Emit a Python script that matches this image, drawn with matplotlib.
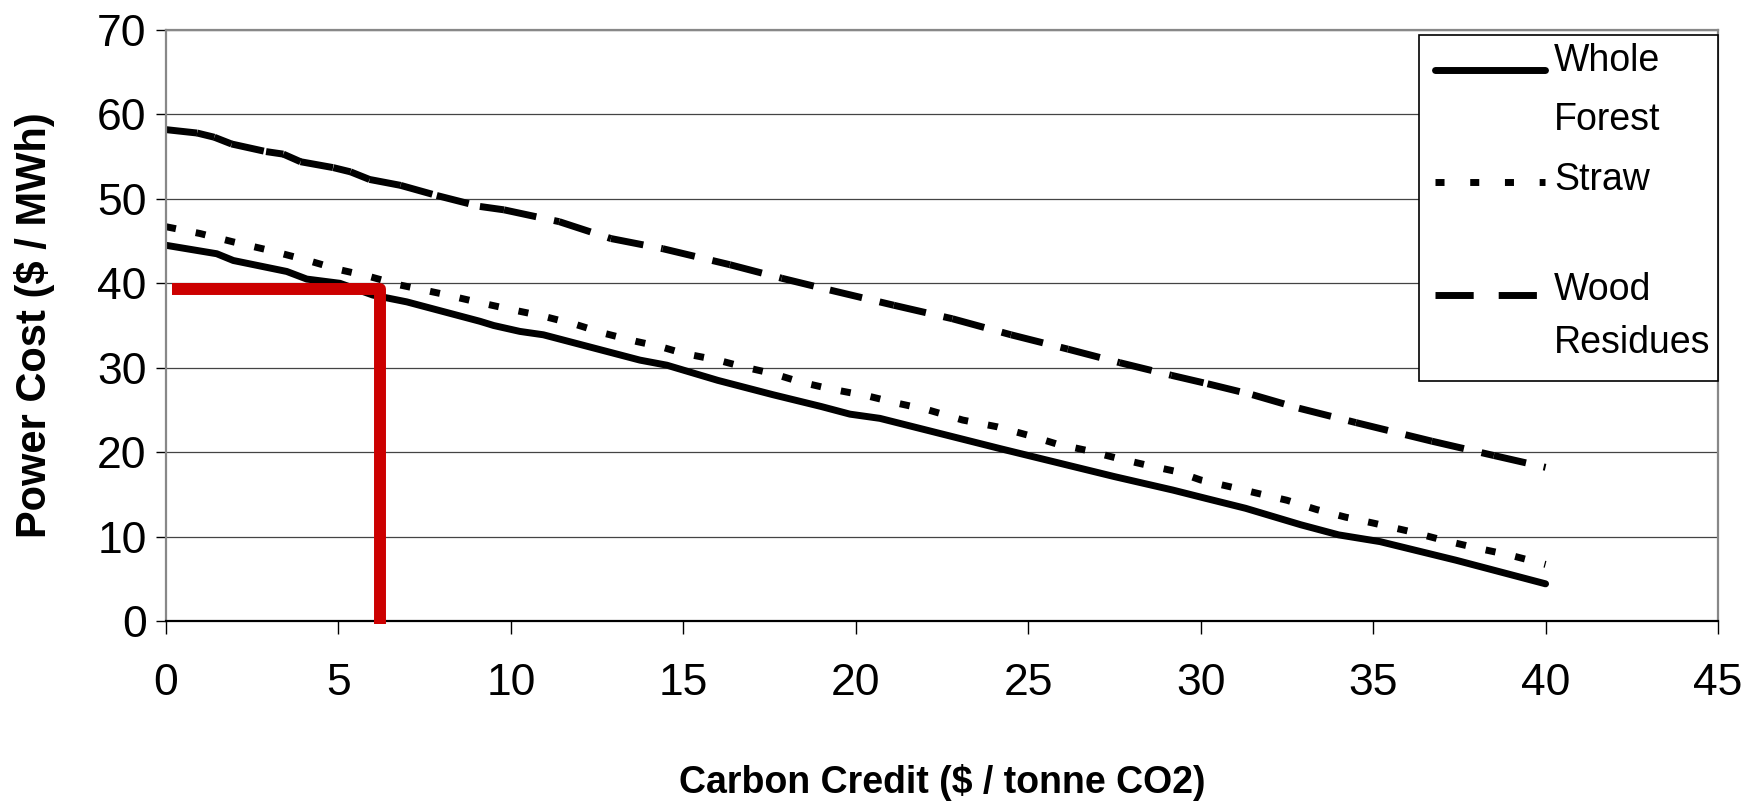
import matplotlib
matplotlib.use("Agg")
import matplotlib.pyplot as plt
from matplotlib.collections import LineCollection
from matplotlib.lines import Line2D
from matplotlib.patches import Rectangle

plt.rcParams["font.family"] = ["Liberation Sans", "DejaVu Sans"]

# Whole Forest (solid)
forest_x = [0, 1.47, 1.95, 3.5, 4.08, 5.04, 6.0, 6.98, 9.1, 9.5, 10.26, 10.94,
            13.74, 14.52, 16.0, 17.6, 19.0, 19.83, 20.7, 24.2, 27.5, 29.2,
            30.17, 31.3, 32.9, 34.0, 35.2, 37.4, 40]
forest_y = [44.5, 43.5, 42.7, 41.4, 40.5, 40.0, 38.6, 37.8, 35.5, 35.0, 34.3, 33.9,
            30.9, 30.3, 28.5, 26.8, 25.4, 24.5, 24.0, 20.4, 17.1, 15.5,
            14.5, 13.35, 11.4, 10.2, 9.4, 7.2, 4.4]

# Straw (dotted)
straw_x = [0, 0.98, 1.95, 3.0, 4.03, 5.04, 5.9, 6.78, 7.94, 9.0, 10.0, 10.94,
           11.9, 12.68, 13.65, 14.33, 15.0, 16.0, 16.74, 17.6, 18.4, 19.25,
           20.4, 21.2, 22.1, 23.1, 24.1, 25.0, 25.8, 26.7, 27.56, 28.4, 29.3,
           30.0, 30.85, 31.67, 32.5, 33.36, 34.2, 35.0, 36.07, 37.0, 38.05,
           38.97, 40]
straw_y = [46.7, 45.9, 44.9, 43.9, 42.8, 41.6, 40.8, 39.8, 38.8, 37.8, 36.9, 36.1,
           35.1, 34.1, 33.1, 32.5, 31.7, 30.9, 30.1, 29.3, 28.3, 27.5,
           26.6, 25.8, 25.0, 23.8, 23.0, 22.0, 21.0, 20.2, 19.3, 18.5, 17.7,
           16.7, 15.9, 15.1, 14.3, 13.2, 12.3, 11.6, 10.6, 9.6, 8.6,
           7.8, 6.7]

# Wood Residues (dashed)
wood_x = [0, 0.9, 1.4, 1.9, 2.9, 3.4, 3.9, 4.85, 5.35, 5.9, 6.8, 7.85, 9.1,
          9.8, 11.4, 12.9, 14.4, 16.35, 17.85, 19.25, 21.1, 22.8, 24.5, 26.15,
          27.65, 29.15, 30.2, 31.5, 32.85, 34.5, 36.7, 38.5, 40]
wood_y = [58.2, 57.8, 57.3, 56.5, 55.6, 55.3, 54.4, 53.7, 53.2, 52.3, 51.6, 50.4, 49.1,
          48.7, 47.3, 45.3, 44.1, 42.2, 40.6, 39.2, 37.4, 35.8, 33.9, 32.2,
          30.6, 29.1, 28.1, 26.8, 25.2, 23.5, 21.3, 19.6, 18.2]

# red marker lines
red_x = [0.17, 6.2, 6.2]
red_y = [39.3, 39.3, -0.4]

legend_labels = [["Whole", "Forest"], ["Straw"], ["Wood", "Residues"]]

fig = plt.figure(figsize=(17.59, 8.07), dpi=100)
ax = fig.add_axes([0.0944, 0.2305, 0.8823, 0.7323])

ax.set_xlim(0, 45)
ax.set_ylim(0, 70)
ax.set_xticks(range(0, 46, 5))
ax.set_yticks(range(0, 71, 10))
ax.yaxis.grid(True, color="#444444", linewidth=0.9)
ax.set_axisbelow(True)

for side in ["left", "top", "right"]:
    ax.spines[side].set_color("#888888")
    ax.spines[side].set_linewidth(1.6)
ax.spines["bottom"].set_color("black")
ax.spines["bottom"].set_linewidth(1.6)

ax.tick_params(axis="y", direction="out", length=7, width=1, pad=7, labelsize=32)
ax.tick_params(axis="x", direction="out", length=9.5, width=1, pad=21, labelsize=32)

lw = 5.0
ax.plot(forest_x, forest_y, color="black", linewidth=lw,
        solid_joinstyle="round", solid_capstyle="round")
ax.plot(straw_x, straw_y, color="black", linewidth=lw,
        linestyle=(0, (1.45, 2.9)), dash_capstyle="butt")

# dashed line: pattern restarts at every data point
wood_segs = [[(wood_x[i], wood_y[i]), (wood_x[i + 1], wood_y[i + 1])]
             for i in range(len(wood_x) - 1)]
ax.add_collection(LineCollection(wood_segs, colors="black", linewidths=lw,
                                 linestyles=[(0, (4.75, 2.6))], capstyle="butt"))

ax.plot(red_x, red_y, color="#CC0000", linewidth=8.6, solid_joinstyle="round",
        solid_capstyle="butt", clip_on=False, zorder=5)

ax.set_xlabel("Carbon Credit ($ / tonne CO2)", fontsize=27, fontweight="bold")
ax.xaxis.set_label_coords(0.5, -0.274)
ax.xaxis.label.set_va("center")
ax.set_ylabel("Power Cost ($ / MWh)", fontsize=30, fontweight="bold")
ax.yaxis.set_label_coords(-0.085, 0.5)
ax.yaxis.label.set_va("center")

# legend drawn by hand to keep the handle on the first text line
ax.add_patch(Rectangle((0.8073, 0.4061), 0.1927, 0.5854, transform=ax.transAxes,
                       facecolor="white", edgecolor="black", linewidth=1.2,
                       zorder=6, clip_on=False))
handle_y = [0.9323, 0.7428, 0.5516]
styles = [dict(linestyle="-", solid_capstyle="round"),
          dict(linestyle=(0, (1.3, 3.7)), dash_capstyle="butt"),
          dict(linestyle=(0, (5.5, 3.6)), dash_capstyle="butt")]
line_base = [[0.9306, 0.8308], [0.7293], [0.5431, 0.4530]]
for hy, st, labs, bases in zip(handle_y, styles, legend_labels, line_base):
    ax.add_line(Line2D([0.8176, 0.8885], [hy, hy], transform=ax.transAxes,
                       color="black", linewidth=5.0, zorder=7, clip_on=False, **st))
    for lab, by in zip(labs, bases):
        ax.text(0.8943, by, lab, transform=ax.transAxes, fontsize=27,
                va="baseline", ha="left", zorder=7)

fig.savefig("out.png", dpi=100)
